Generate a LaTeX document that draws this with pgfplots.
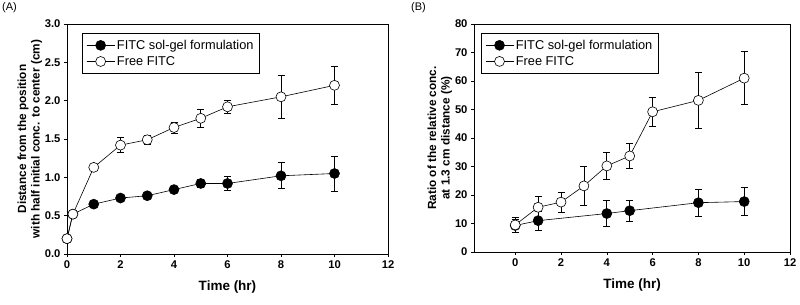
\documentclass[border=0pt]{standalone}
\usepackage{fontspec}
\setmainfont{Liberation Sans}
\usepackage{pgfplots}
\pgfplotsset{compat=1.18}
\begin{document}
\begin{tikzpicture}[x=1pt,y=1pt]
\useasboundingbox (0,0) rectangle (800,305);
\pgfplotsset{
  every axis/.append style={
    scale only axis,
    axis line style={black, line width=0.7pt},
    tick align=outside,
    xtick pos=bottom, ytick pos=left,
    major tick length=3pt,
    tick style={black, line width=0.6pt},
    /pgf/number format/assume math mode=true,
    ticklabel style={font=\bfseries\fontsize{11.2}{13}\selectfont},
    xlabel style={font=\bfseries\fontsize{13.5}{15}\selectfont},
    ylabel style={font=\bfseries\fontsize{11.8}{13.5}\selectfont, align=center},
    legend style={font=\fontsize{12.8}{15}\selectfont, draw=black, line width=0.5pt,
      anchor=north west, inner xsep=4pt, inner ysep=5pt, row sep=1.5pt, legend cell align=left},
    legend image code/.code={\draw[#1] (0pt,0pt) -- (28pt,0pt); \draw[#1,mark repeat=2,mark phase=2] plot coordinates {(0pt,0pt) (14pt,0pt) (28pt,0pt)};},
  },
  fser/.style={black, line width=0.6pt, mark=*, mark size=5pt, mark options={fill=black, draw=black},
    error bars/.cd, y dir=both, y explicit, error bar style={black, line width=0.7pt}, error mark options={rotate=90, mark size=3.5pt, black, line width=0.7pt}},
  oser/.style={black, line width=0.6pt, mark=*, mark size=5pt, mark options={fill=white, draw=black},
    error bars/.cd, y dir=both, y explicit, error bar style={black, line width=0.7pt}, error mark options={rotate=90, mark size=3.5pt, black, line width=0.7pt}},
}
\node[anchor=north west, font=\fontsize{11}{13}\selectfont, inner sep=0pt] at (2,303) {(A)};
\node[anchor=north west, font=\fontsize{11}{13}\selectfont, inner sep=0pt] at (411,303) {(B)};
\begin{axis}[
  at={(67pt,51pt)}, anchor=south west,
  width=321pt, height=230pt,
  xmin=0, xmax=12, ymin=0, ymax=3,
  xtick={0,2,...,12}, ytick={0,0.5,...,3},
  yticklabel style={/pgf/number format/.cd, fixed, fixed zerofill, precision=1},
  xlabel={Time (hr)},
  ylabel={Distance from the position\\with half initial conc. to center (cm)},
  xlabel style={yshift=-5pt},
  ylabel style={yshift=-4pt},
  legend style={at={(0.047,0.962)}},
  clip=false,
]
\addplot+[fser] coordinates {
 (0,0.2) +- (0,0)
 (0.22,0.52) +- (0,0)
 (1,0.65) +- (0,0.02)
 (2,0.73) +- (0,0.02)
 (3,0.76) +- (0,0.02)
 (4,0.84) +- (0,0.03)
 (5,0.92) +- (0,0.05)
 (6,0.92) +- (0,0.09)
 (8,1.02) +- (0,0.17)
 (10,1.05) +- (0,0.23)
};
\addlegendentry{FITC sol-gel formulation}
\addplot+[oser] coordinates {
 (0,0.2) +- (0,0)
 (0.22,0.52) +- (0,0)
 (1,1.13) +- (0,0.03)
 (2,1.42) +- (0,0.10)
 (3,1.49) +- (0,0.06)
 (4,1.65) +- (0,0.07)
 (5,1.77) +- (0,0.12)
 (6,1.92) +- (0,0.09)
 (8,2.05) +- (0,0.28)
 (10,2.20) +- (0,0.25)
};
\addlegendentry{Free FITC}
\end{axis}
\begin{axis}[
  at={(474pt,53pt)}, anchor=south west,
  width=316pt, height=228pt,
  xmin=-1.8, xmax=12, ymin=0, ymax=80,
  xtick={0,2,...,12}, ytick={0,10,...,80},
  xlabel={Time (hr)},
  ylabel={Ratio of the relative conc.\\at 1.3 cm distance (\%)},
  xlabel style={yshift=-5pt},
  ylabel style={yshift=-4pt},
  legend style={at={(0.022,0.962)}},
  clip=false,
]
\addplot+[fser] coordinates {
 (0,9.3) +- (0,2.3)
 (1,11.0) +- (0,3.4)
 (4,13.5) +- (0,4.6)
 (5,14.5) +- (0,3.6)
 (8,17.3) +- (0,4.8)
 (10,17.7) +- (0,5.0)
};
\addlegendentry{FITC sol-gel formulation}
\addplot+[oser] coordinates {
 (0,9.5) +- (0,2.6)
 (1,15.7) +- (0,3.8)
 (2,17.5) +- (0,3.6)
 (3,23.2) +- (0,6.8)
 (4,30.2) +- (0,4.8)
 (5,33.7) +- (0,4.4)
 (6,49.2) +- (0,5.0)
 (8,53.2) +- (0,9.7)
 (10,61.0) +- (0,9.3)
};
\addlegendentry{Free FITC}
\end{axis}
\end{tikzpicture}
\end{document}
